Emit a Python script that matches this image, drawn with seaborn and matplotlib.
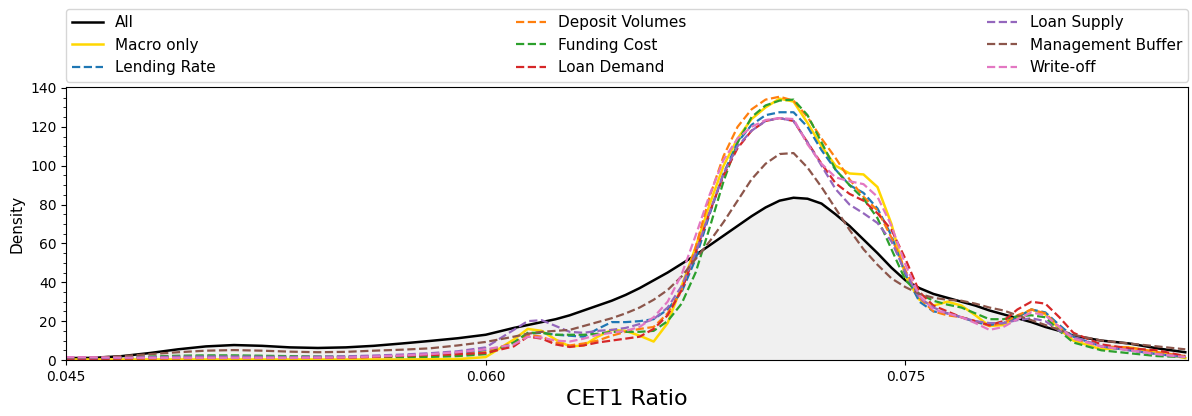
import numpy as np
import pandas as pd
import matplotlib
matplotlib.use("Agg")
import matplotlib.pyplot as plt
import seaborn as sns
from matplotlib.ticker import AutoMinorLocator

# CET1 ratio grid
cet1 = [0.045, 0.046, 0.047, 0.048, 0.049, 0.050, 0.051, 0.052, 0.053, 0.054,
        0.055, 0.056, 0.057, 0.058, 0.059, 0.060, 0.061, 0.0615, 0.062, 0.0625,
        0.063, 0.0635, 0.064, 0.0645, 0.065, 0.0655, 0.066, 0.0665, 0.067, 0.0675,
        0.068, 0.0685, 0.069, 0.0695, 0.070, 0.0705, 0.071, 0.0715, 0.072, 0.0725,
        0.073, 0.0735, 0.074, 0.0745, 0.075, 0.0755, 0.076, 0.0765, 0.077, 0.0775,
        0.078, 0.0785, 0.079, 0.0795, 0.080, 0.0805, 0.081, 0.082, 0.083, 0.084, 0.085]

dens_all = [1.0, 1.1, 2.0, 3.6, 5.5, 7.0, 7.7, 7.3, 6.5, 6.2, 6.5, 7.3, 8.5, 9.8, 11.2, 13.0,
            16.5, 18.0, 19.5, 21.0, 23.0, 25.5, 28.0, 30.5, 33.5, 37.0, 41.0, 45.0, 49.5, 54.0,
            59.0, 64.0, 69.0, 74.0, 78.5, 82.0, 83.5, 83.0, 80.5, 75.0, 69.0, 62.0, 55.0, 47.5,
            41.0, 37.0, 34.0, 32.0, 30.0, 28.0, 25.5, 23.5, 21.5, 19.5, 17.0, 15.0, 12.5, 10.0,
            8.5, 6.0, 4.0]
dens_macro = [0.3, 0.3, 0.3, 0.3, 0.3, 0.3, 0.3, 0.3, 0.3, 0.3, 0.3, 0.3, 0.3, 0.4, 0.5, 1.5,
              10.5, 16.0, 15.0, 10.5, 7.0, 7.5, 12.0, 15.5, 15.0, 12.5, 9.5, 19.0, 38.0, 58.0,
              80.0, 100.0, 114.0, 124.0, 130.0, 134.5, 133.0, 122.0, 110.0, 100.0, 96.0, 95.5,
              89.0, 70.0, 43.0, 31.0, 28.0, 30.0, 28.0, 23.0, 17.5, 18.0, 22.0, 26.0, 23.5,
              16.0, 10.0, 5.5, 6.5, 4.0, 1.0]
dens_lending = [0.5, 0.7, 1.1, 1.5, 1.8, 1.9, 1.9, 1.8, 1.6, 1.6, 1.6, 1.8, 2.2, 2.8, 3.6, 5.0,
                8.0, 13.5, 14.0, 13.0, 12.5, 12.0, 16.0, 19.5, 19.5, 20.0, 21.0, 26.0, 35.0, 52.0,
                75.0, 96.0, 112.0, 121.0, 126.0, 127.5, 127.5, 120.0, 108.0, 98.0, 90.0, 86.0,
                78.0, 64.0, 44.0, 30.0, 25.0, 24.0, 22.0, 19.5, 18.0, 19.0, 22.0, 26.0, 24.5,
                18.0, 12.0, 7.0, 5.0, 3.0, 1.5]
dens_deposit = [1.0, 1.0, 1.1, 1.2, 1.2, 1.2, 1.2, 1.2, 1.2, 1.2, 1.3, 1.5, 1.7, 2.0, 2.5, 4.0,
                9.0, 13.0, 12.0, 9.0, 7.5, 8.5, 10.0, 12.5, 14.5, 16.0, 17.0, 24.0, 36.0, 58.0,
                84.0, 105.0, 120.0, 129.0, 134.0, 135.5, 133.5, 125.0, 114.0, 104.0, 93.0, 84.0,
                77.0, 63.0, 46.0, 32.0, 25.0, 23.0, 22.0, 20.0, 17.5, 19.0, 23.0, 26.0, 24.0,
                17.0, 11.0, 7.0, 6.5, 4.0, 2.0]
dens_funding = [0.6, 0.8, 1.3, 1.8, 2.2, 2.4, 2.4, 2.2, 2.0, 1.8, 1.7, 1.6, 1.5, 1.6, 2.0, 3.0,
                9.0, 14.0, 14.0, 13.0, 13.0, 13.0, 13.5, 14.5, 14.5, 14.5, 15.0, 20.0, 29.0, 45.0,
                68.0, 92.0, 112.0, 125.0, 131.0, 133.5, 134.0, 126.0, 112.0, 98.0, 90.0, 83.0,
                73.0, 57.0, 41.0, 34.0, 30.5, 28.5, 27.0, 24.0, 21.0, 21.0, 22.5, 23.0, 22.0,
                15.0, 9.0, 5.0, 3.5, 2.0, 1.5]
dens_demand = [0.6, 0.6, 0.7, 0.8, 0.9, 1.0, 1.0, 1.0, 1.0, 1.1, 1.2, 1.6, 2.1, 2.6, 3.0, 3.6,
               7.0, 12.0, 11.0, 8.0, 6.7, 7.5, 9.0, 10.0, 11.0, 12.0, 16.0, 23.0, 36.0, 55.0,
               76.0, 95.0, 109.0, 118.0, 123.0, 124.5, 123.0, 112.0, 101.0, 91.0, 85.5, 82.0,
               75.5, 67.0, 52.0, 35.0, 28.0, 25.0, 22.0, 20.0, 18.0, 20.0, 26.0, 30.0, 29.0,
               22.0, 14.0, 8.0, 6.0, 5.0, 2.0]
dens_supply = [1.0, 1.0, 1.2, 1.5, 1.7, 1.8, 1.8, 1.7, 1.6, 1.7, 1.9, 2.3, 2.8, 3.5, 4.5, 6.5,
               15.5, 20.0, 20.5, 17.5, 14.5, 14.0, 15.0, 15.5, 16.5, 18.5, 21.0, 27.0, 38.0, 55.0,
               76.0, 96.0, 110.0, 118.0, 123.0, 124.5, 123.0, 112.0, 100.0, 88.0, 80.0, 75.5,
               70.5, 61.0, 45.0, 32.0, 27.0, 24.0, 22.0, 20.0, 19.0, 19.0, 20.5, 21.5, 20.0,
               15.0, 12.0, 7.0, 5.0, 3.0, 1.5]
dens_buffer = [1.2, 1.3, 2.0, 3.0, 4.0, 4.8, 5.1, 4.8, 4.3, 4.0, 4.2, 4.8, 5.3, 6.0, 7.5, 9.3,
               12.0, 13.5, 14.5, 15.0, 15.5, 17.5, 19.5, 21.5, 24.0, 27.0, 31.0, 36.0, 43.0, 52.0,
               61.0, 71.0, 82.0, 93.0, 101.0, 106.0, 106.5, 99.0, 89.0, 78.0, 67.0, 57.0,
               49.0, 42.0, 37.5, 34.0, 32.0, 31.0, 30.5, 29.0, 27.0, 25.5, 23.0, 20.5, 18.0,
               15.5, 13.0, 10.0, 8.5, 7.0, 5.5]
dens_writeoff = [1.5, 1.4, 1.2, 1.1, 1.1, 1.1, 1.1, 1.1, 1.1, 1.2, 1.3, 1.8, 2.3, 3.0, 4.0, 5.5,
                 8.0, 12.0, 11.5, 10.0, 9.5, 11.0, 13.0, 14.0, 15.0, 17.0, 22.0, 30.0, 44.0, 64.0,
                 85.0, 103.0, 114.0, 120.0, 123.5, 124.5, 124.0, 111.0, 101.0, 94.0, 92.0, 90.5,
                 84.0, 69.0, 49.0, 33.0, 26.0, 24.0, 22.0, 19.0, 15.5, 17.0, 21.0, 24.5, 23.0,
                 17.0, 11.0, 7.0, 5.0, 3.0, 1.5]

scenarios = [
    ("Lending Rate", dens_lending, "tab:blue"),
    ("Deposit Volumes", dens_deposit, "tab:orange"),
    ("Funding Cost", dens_funding, "tab:green"),
    ("Loan Demand", dens_demand, "tab:red"),
    ("Loan Supply", dens_supply, "tab:purple"),
    ("Management Buffer", dens_buffer, "tab:brown"),
    ("Write-off", dens_writeoff, "tab:pink"),
]

fig = plt.figure(figsize=(11.92, 4.16), dpi=100)
ax = fig.add_axes([0.0554, 0.1346, 0.9413, 0.6563])

# shaded area under the full distribution
ax.fill_between(cet1, dens_all, color="#f0f0f0", zorder=0)

sns.lineplot(x=cet1, y=dens_all, ax=ax, color="black", linewidth=1.8, label="All")
sns.lineplot(x=cet1, y=dens_macro, ax=ax, color="gold", linewidth=1.8, label="Macro only")
for name, vals, col in scenarios:
    sns.lineplot(x=cet1, y=vals, ax=ax, color=col, linewidth=1.6,
                 linestyle="--", label=name)

ax.set_xlim(0.045, 0.0851)
ax.set_ylim(0, 140.5)
ax.set_xticks([0.045, 0.060, 0.075])
ax.set_xticklabels(["0.045", "0.060", "0.075"])
ax.yaxis.set_minor_locator(AutoMinorLocator())
ax.tick_params(labelsize=10)
ax.set_xlabel("CET1 Ratio", fontsize=16)
ax.set_ylabel("Density", fontsize=11)

ax.legend(loc="lower left", bbox_to_anchor=(0, 1.02, 1, 0.2), mode="expand",
          ncol=3, fontsize=11, borderaxespad=0)

fig.savefig("out.png", dpi=100)
